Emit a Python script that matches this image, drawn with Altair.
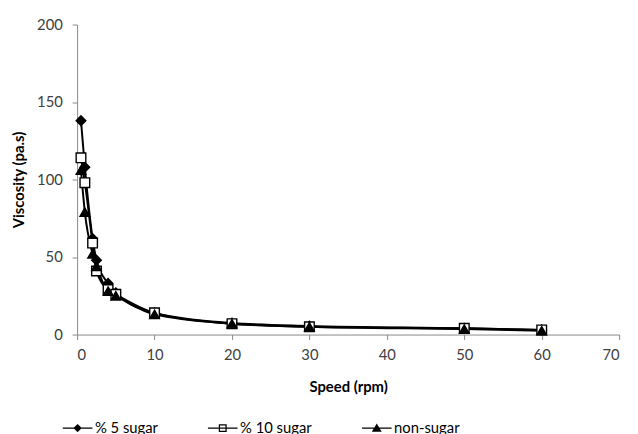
import altair as alt
import pandas as pd

speed = [0.5, 1, 2, 2.5, 4, 5, 10, 20, 30, 50, 60]
sugar5 = [138, 108, 62, 48, 33, 27, 14, 7.5, 5.5, 4, 3]
sugar10 = [114, 98, 59, 41, 29, 26, 14, 7, 5, 4, 3]
nonsugar = [106, 79, 52, 44, 28, 25, 13, 7, 5, 3.5, 2.5]
series_names = ["% 5 sugar", "% 10 sugar", "non-sugar"]

rows = []
for name, vals in zip(series_names, [sugar5, sugar10, nonsugar]):
    for s, v in zip(speed, vals):
        rows.append({"speed": s, "visc": v, "series": name})
df = pd.DataFrame(rows)

FONT = "Lato"
x = alt.X("speed:Q", title="Speed (rpm)",
          scale=alt.Scale(domain=[0, 70], nice=False),
          axis=alt.Axis(values=[0, 10, 20, 30, 40, 50, 60, 70], grid=False))
y = alt.Y("visc:Q", title="Viscosity  (pa.s)",
          scale=alt.Scale(domain=[0, 200], nice=False),
          axis=alt.Axis(values=[0, 50, 100, 150, 200], grid=False))

lines = alt.Chart(df).mark_line(color="black", strokeWidth=2, interpolate="monotone").encode(
    x=x, y=y, detail="series:N")

points = alt.Chart(df).mark_point(filled=True, size=95, strokeWidth=1.4, stroke="black", opacity=1).encode(
    x=x, y=y,
    shape=alt.Shape("series:N", scale=alt.Scale(domain=series_names,
                                                range=["diamond", "square", "triangle-up"]),
                    legend=None),
    fill=alt.condition(alt.datum.series == "% 10 sugar", alt.value("white"), alt.value("black")),
)

bar = "M-3,-0.14L3,-0.14L3,0.14L-3,0.14Z"
paths = [
    bar + "M0,-0.85L0.85,0L0,0.85L-0.85,0Z",
    bar + "M-0.8,-0.8L0.8,-0.8L0.8,0.8L-0.8,0.8ZM-0.55,-0.55L-0.55,0.55L0.55,0.55L0.55,-0.55Z",
    bar + "M0,-0.95L1,0.75L-1,0.75Z",
]
legend_layer = alt.Chart(df).transform_filter("false").mark_point(
    filled=True, size=100, fill="black", opacity=1).encode(
    x=x, y=y,
    shape=alt.Shape("series:N", title=None,
                    scale=alt.Scale(domain=series_names, range=paths),
                    legend=alt.Legend(orient="none", direction="horizontal", columns=3,
                                      legendX=-7, legendY=401, columnPadding=47,
                                      labelOffset=10, symbolSize=100,
                                      symbolFillColor="black", symbolOpacity=1,
                                      labelFont=FONT, labelFontSize=15, labelColor="black",
                                      labelLimit=200)),
)

chart = alt.layer(lines, points, legend_layer).resolve_scale(shape="independent").properties(
    width=549, height=314,
    autosize=alt.AutoSizeParams(type="none"),
    padding={"left": 70, "top": 14, "right": 11, "bottom": 100},
).configure_view(stroke=None).configure_axis(
    labelFont=FONT, labelFontSize=15, labelColor="#404040",
    titleFont=FONT, titleFontSize=15, titleFontWeight="bold", titleColor="black",
    domainColor="#888888", tickColor="#888888", tickSize=5, domainWidth=1,
).configure_axisY(labelPadding=10, titlePadding=10).configure_axisX(labelPadding=8, titlePadding=18)

chart.save("out.html", embed_options={"renderer": "svg", "actions": False})
